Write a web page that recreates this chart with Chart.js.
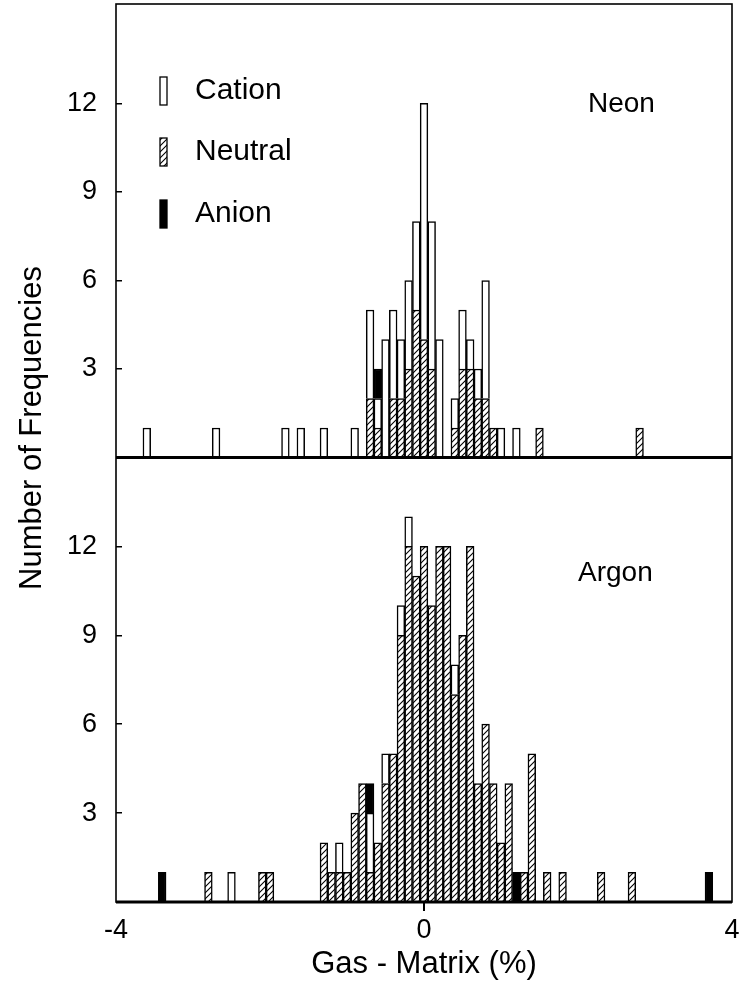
<!DOCTYPE html>
<html>
<head>
<meta charset="utf-8">
<title>Gas - Matrix frequency shifts</title>
<script src="https://cdn.jsdelivr.net/npm/chart.js@4.4.1/dist/chart.umd.min.js"></script>
<style>
  html, body { margin: 0; padding: 0; background: #fff; }
  #wrap { width: 745px; height: 999px; }
</style>
</head>
<body>
<div id="wrap"><canvas id="shiftChart" width="745" height="999"></canvas></div>
<script>
// histogram bin centres (Gas - Matrix, %) and number of frequencies per bin
const neonBins    = [-3.6, -2.7, -1.8, -1.6, -1.3, -0.9, -0.7, -0.6, -0.5, -0.4, -0.3, -0.2, -0.1, 0, 0.1, 0.2, 0.4, 0.5, 0.6, 0.7, 0.8, 0.9, 1.0, 1.2, 1.5, 2.8];
const neonNeutral = [0, 0, 0, 0, 0, 0, 2, 1, 0, 2, 2, 3, 5, 4, 3, 0, 1, 3, 3, 2, 2, 1, 0, 0, 1, 1];
const neonCation  = [1, 1, 1, 1, 1, 1, 3, 1, 4, 3, 2, 3, 3, 8, 5, 4, 1, 2, 1, 1, 4, 0, 1, 1, 0, 0];
const neonAnion   = [0, 0, 0, 0, 0, 0, 0, 1, 0, 0, 0, 0, 0, 0, 0, 0, 0, 0, 0, 0, 0, 0, 0, 0, 0, 0];

const argonBins    = [-3.4, -2.8, -2.5, -2.1, -2.0, -1.3, -1.2, -1.1, -1.0, -0.9, -0.8, -0.7, -0.6, -0.5, -0.4, -0.3, -0.2, -0.1, 0, 0.1, 0.2, 0.3, 0.4, 0.5, 0.6, 0.7, 0.8, 0.9, 1.0, 1.1, 1.2, 1.3, 1.4, 1.6, 1.8, 2.3, 2.7, 3.7];
const argonNeutral = [0, 1, 0, 1, 1, 2, 1, 1, 1, 3, 4, 1, 2, 4, 5, 9, 12, 11, 12, 10, 12, 12, 7, 9, 12, 4, 6, 4, 2, 4, 0, 1, 5, 1, 1, 1, 1, 0];
const argonCation  = [0, 0, 1, 0, 0, 0, 0, 1, 0, 0, 0, 2, 0, 1, 0, 1, 1, 0, 0, 0, 0, 0, 1, 0, 0, 0, 0, 0, 0, 0, 0, 0, 0, 0, 0, 0, 0, 0];
const argonAnion   = [1, 0, 0, 0, 0, 0, 0, 0, 0, 0, 0, 1, 0, 0, 0, 0, 0, 0, 0, 0, 0, 0, 0, 0, 0, 0, 0, 0, 0, 0, 1, 0, 0, 0, 0, 0, 0, 1];

const xTicks = [-4, 0, 4];
const yTicks = [3, 6, 9, 12];
const seriesNames = ['Cation', 'Neutral', 'Anion'];
const panelNames = ['Neon', 'Argon'];

const FONT = "'Liberation Sans', Arial, sans-serif";

// diagonal hatch for the neutral bars
function makeHatch() {
  const pc = document.createElement('canvas');
  pc.width = pc.height = 6;
  const p = pc.getContext('2d');
  p.fillStyle = '#fff';
  p.fillRect(0, 0, 6, 6);
  p.strokeStyle = '#000';
  p.lineWidth = 1.1;
  p.beginPath();
  p.moveTo(0, 6); p.lineTo(6, 0);
  p.moveTo(-1, 1); p.lineTo(1, -1);
  p.moveTo(5, 7); p.lineTo(7, 5);
  p.stroke();
  return p.createPattern(pc, 'repeat');
}
const hatch = makeHatch();

function pts(bins, counts) {
  return bins.map((b, i) => ({ x: b, y: counts[i] || null }));
}

const barStyle = {
  borderColor: '#000',
  borderWidth: 1.5,
  borderSkipped: 'start',
  barPercentage: 1,
  categoryPercentage: 1
};

const datasets = [
  { label: 'Neutral', yAxisID: 'neon', data: pts(neonBins, neonNeutral), backgroundColor: hatch, ...barStyle },
  { label: 'Cation',  yAxisID: 'neon', data: pts(neonBins, neonCation),  backgroundColor: '#fff', ...barStyle },
  { label: 'Anion',   yAxisID: 'neon', data: pts(neonBins, neonAnion),   backgroundColor: '#000', ...barStyle },
  { label: 'Neutral', yAxisID: 'argon', data: pts(argonBins, argonNeutral), backgroundColor: hatch, ...barStyle },
  { label: 'Cation',  yAxisID: 'argon', data: pts(argonBins, argonCation),  backgroundColor: '#fff', ...barStyle },
  { label: 'Anion',   yAxisID: 'argon', data: pts(argonBins, argonAnion),   backgroundColor: '#000', ...barStyle }
];

function noPad(s) {
  s.paddingTop = 0; s.paddingBottom = 0; s.paddingLeft = 0; s.paddingRight = 0;
}

function yAxis(max, weight) {
  return {
    axis: 'y',
    type: 'linear',
    position: 'left',
    stack: 'panels',
    stackWeight: weight,
    stacked: true,
    min: 0,
    max: max,
    afterBuildTicks: s => { s.ticks = yTicks.map(v => ({ value: v })); },
    afterFit: s => { s.width = 116; noPad(s); },
    ticks: { color: '#000', font: { family: FONT, size: 27 }, padding: 25 },
    grid: { drawOnChartArea: false, tickLength: -6, lineWidth: 1.5, color: '#000', tickColor: '#000' },
    border: { display: false }
  };
}

const framePlugin = {
  id: 'frame',
  beforeDraw(chart) {
    const ctx = chart.ctx;
    ctx.save();
    ctx.fillStyle = '#fff';
    ctx.fillRect(0, 0, chart.width, chart.height);
    ctx.restore();
  },
  afterDraw(chart) {
    const { ctx, chartArea: a, scales } = chart;
    const seam = scales.neon.bottom;
    ctx.save();
    ctx.strokeStyle = '#000';
    ctx.lineWidth = 1.6;
    ctx.strokeRect(a.left, a.top, a.right - a.left, a.bottom - a.top);
    ctx.lineWidth = 3;
    ctx.beginPath();
    ctx.moveTo(a.left, seam); ctx.lineTo(a.right, seam);
    ctx.moveTo(a.left, a.bottom); ctx.lineTo(a.right, a.bottom);
    ctx.stroke();

    // legend inside the top panel
    const fills = { Cation: '#fff', Neutral: hatch, Anion: '#000' };
    const rowY = [91, 152, 214];
    ctx.font = '30px ' + FONT;
    ctx.textBaseline = 'middle';
    ctx.textAlign = 'left';
    seriesNames.forEach((name, i) => {
      const y = rowY[i];
      ctx.fillStyle = fills[name];
      ctx.fillRect(160, y - 14, 7, 28);
      ctx.lineWidth = 1.3;
      ctx.strokeRect(160, y - 14, 7, 28);
      ctx.fillStyle = '#000';
      ctx.fillText(name, 195, y);
    });

    // panel labels
    ctx.font = '28px ' + FONT;
    ctx.fillText(panelNames[0], 588, 104);
    ctx.fillText(panelNames[1], 578, 573);

    // shared y title
    ctx.translate(32, 428);
    ctx.rotate(-Math.PI / 2);
    ctx.textAlign = 'center';
    ctx.font = '31px ' + FONT;
    ctx.fillText('Number of Frequencies', 0, 0);
    ctx.restore();
  }
};

new Chart(document.getElementById('shiftChart'), {
  type: 'bar',
  data: { datasets: datasets },
  options: {
    responsive: false,
    animation: false,
    devicePixelRatio: 1,
    layout: { padding: { left: 0, right: 13, top: 4, bottom: 0 } },
    plugins: {
      legend: { display: false },
      tooltip: { enabled: false }
    },
    scales: {
      x: {
        type: 'linear',
        min: -4,
        max: 4,
        offset: false,
        stacked: true,
        afterBuildTicks: s => { s.ticks = xTicks.map(v => ({ value: v })); },
        afterFit: s => { s.height = 97; noPad(s); },
        ticks: { color: '#000', font: { family: FONT, size: 27 }, padding: 3 },
        grid: {
          drawOnChartArea: false,
          offset: false,
          tickLength: 9,
          lineWidth: 2,
          tickColor: c => (c.tick && c.tick.value === 0) ? '#000' : 'rgba(0,0,0,0)'
        },
        border: { display: false },
        title: {
          display: true,
          text: 'Gas - Matrix (%)',
          color: '#000',
          font: { family: FONT, size: 31 },
          padding: { top: 0, bottom: 16 }
        }
      },
      argon: yAxis(15, 444.5),
      neon: yAxis(15.37, 453.5)
    }
  },
  plugins: [framePlugin]
});
</script>
</body>
</html>
